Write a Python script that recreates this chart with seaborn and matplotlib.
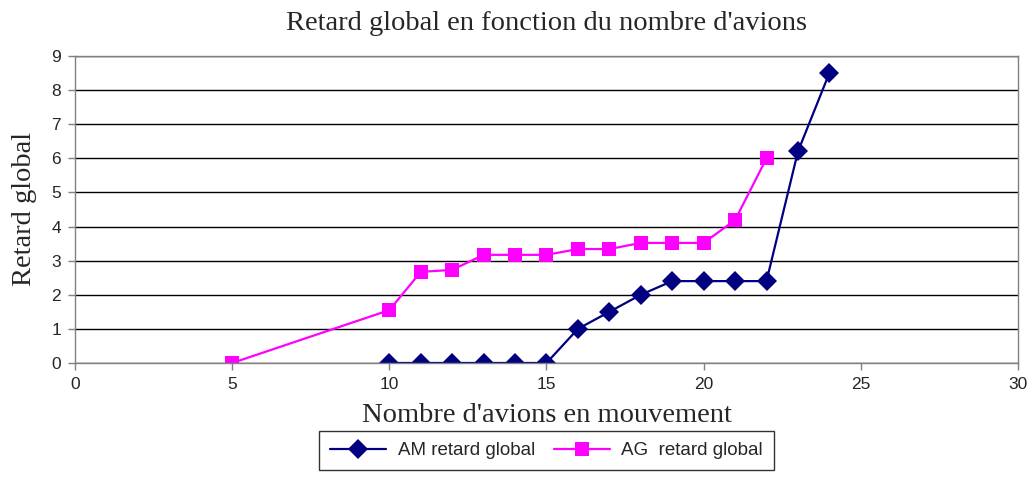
import matplotlib
matplotlib.use("Agg")
import matplotlib.pyplot as plt
import seaborn as sns
import pandas as pd

# Number of aircraft in movement and the resulting global delay
am_x = [10, 11, 12, 13, 14, 15, 16, 17, 18, 19, 20, 21, 22, 23, 24]
am_y = [0, 0, 0, 0, 0, 0, 1.0, 1.5, 2.0, 2.4, 2.4, 2.4, 2.4, 6.2, 8.5]
ag_x = [5, 10, 11, 12, 13, 14, 15, 16, 17, 18, 19, 20, 21, 22]
ag_y = [0, 1.55, 2.67, 2.73, 3.17, 3.17, 3.17, 3.34, 3.34, 3.52, 3.52, 3.52, 4.19, 6.0]
series_names = ["AM retard global", "AG  retard global"]

df = pd.concat([
    pd.DataFrame({"x": am_x, "y": am_y, "serie": series_names[0]}),
    pd.DataFrame({"x": ag_x, "y": ag_y, "serie": series_names[1]}),
])

sns.set_style("white")
plt.rcParams["font.family"] = ["Liberation Sans", "DejaVu Sans"]

fig = plt.figure(figsize=(10.32, 4.95), dpi=100)
ax = fig.add_axes([0.0727, 0.2667, 0.9137, 0.6202])

palette = {series_names[0]: "#000080", series_names[1]: "#FF00FF"}
sns.lineplot(data=df, x="x", y="y", hue="serie", style="serie",
             markers={series_names[0]: "D", series_names[1]: "s"},
             dashes=False, palette=palette, ax=ax, linewidth=1.6,
             markeredgewidth=0, sort=False, legend=True)

sizes = {"D": 10.5, "s": 10.5}
for ln in ax.lines:
    m = ln.get_marker()
    if m in sizes:
        ln.set_markersize(sizes[m])

ax.set_xlim(0, 30)
ax.set_ylim(0, 9)
ax.set_xticks(range(0, 31, 5))
ax.set_yticks(range(0, 10))
ax.yaxis.grid(True, color="#000000", linewidth=1)
ax.set_axisbelow(True)
for s in ["left", "bottom", "top", "right"]:
    ax.spines[s].set_visible(True)
    ax.spines[s].set_color("#808080")
    ax.spines[s].set_linewidth(1)
ax.tick_params(axis="both", which="both", length=5, width=1, color="#808080",
               direction="out", labelsize=12.5, left=True, bottom=True, pad=5)

serif = ["Liberation Serif", "DejaVu Serif"]
ax.set_title("Retard global en fonction du nombre d'avions", family=serif,
             fontsize=20.5, pad=19)
ax.set_xlabel("Nombre d'avions en mouvement", family=serif, fontsize=20.5, labelpad=8)
ax.set_ylabel("Retard global", family=serif, fontsize=20.5, labelpad=10)

handles, labels = ax.get_legend_handles_labels()
for h in handles:
    m = h.get_marker()
    if m in sizes:
        h.set_markersize(sizes[m])
leg = ax.legend(handles, labels, loc="upper center", bbox_to_anchor=(0.5, -0.19),
                ncol=2, frameon=True, fancybox=False, fontsize=13.5,
                handlelength=3.0, handletextpad=0.6, borderpad=0.6,
                columnspacing=1.0)
leg.get_frame().set_edgecolor("black")
leg.get_frame().set_linewidth(1)

fig.savefig("out.png", dpi=100)
